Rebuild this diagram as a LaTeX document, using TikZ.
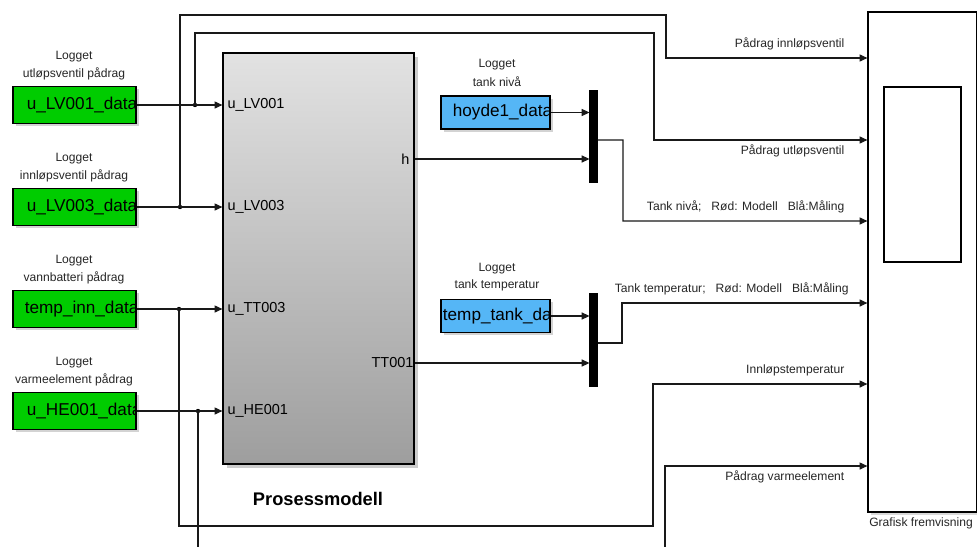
\documentclass[tikz,border=0pt]{standalone}
\usepackage{fontspec}
\setmainfont{Liberation Sans}
\usepackage{tikz}
\usetikzlibrary{arrows.meta, calc, shadows}
\definecolor{logGreen}{RGB}{0,204,0}
\definecolor{logBlue}{RGB}{85,182,246}
\definecolor{blockTop}{RGB}{226,226,226}
\definecolor{blockBot}{RGB}{158,158,158}
\def\u{0.025cm}

\begin{document}
\begin{tikzpicture}[x=\u, y=-\u, line width=0.75pt,
	sig/.style={-{Triangle[length=5.5pt, width=5pt]}},
	wire/.style={draw=black!90},
	datablock/.style={draw, line width=0.9pt, minimum width=123*\u, minimum height=37*\u, inner sep=0pt,
		drop shadow={shadow xshift=2pt, shadow yshift=-2pt, opacity=0.35}},
	datatxt/.style={anchor=west, inner sep=0pt, font=\fontsize{12.2}{14}\selectfont},
	lab/.style={inner sep=0pt, text=black!85, font=\fontsize{8.6}{10}\selectfont},
	port/.style={inner sep=0pt, font=\fontsize{10.3}{12}\selectfont},
	mux/.style={fill=black, draw=black, minimum width=7*\u, inner sep=0pt}]

	\useasboundingbox (0,0) rectangle (977,546);
	\clip (0,0) rectangle (977,546);

	% Prosessmodell
	\node[draw, line width=0.9pt, minimum width=191*\u, minimum height=411*\u, top color=blockTop, bottom color=blockBot,
		drop shadow={shadow xshift=2.5pt, shadow yshift=-2.5pt, opacity=0.4}] (pm) at (318.5,258.5) {};
	\node[font=\bfseries\fontsize{13}{15}\selectfont] (pmlab) at (318,499) {Prosessmodell};
	\node[port, anchor=west] (pLV1) at (227,105) {u\_LV001};
	\node[port, anchor=west] (pLV3) at (227,207) {u\_LV003};
	\node[port, anchor=west] (pTT3) at (227,309) {u\_TT003};
	\node[port, anchor=west] (pHE1) at (227,411) {u\_HE001};
	\node[port, anchor=east] (ph) at (410,159) {h};
	\node[port, anchor=east] (pTT1) at (414,363) {TT001};

	% logged data (green)
	\foreach \i/\yy/\pad/\txt/\lab in {1/105/14/u\_LV001\_data/utløpsventil pådrag,
		2/207/14/u\_LV003\_data/innløpsventil pådrag,
		3/309/12/temp\_inn\_data/vannbatteri pådrag,
		4/411/14/u\_HE001\_data/varmeelement pådrag}{
		\node[datablock, fill=logGreen] (g\i) at (74.5,\yy) {};
		\begin{scope}
			\clip (g\i.south west) rectangle (g\i.north east);
			\node[datatxt] (gt\i) at ($(g\i.west)+(\pad,0)$) {\txt};
		\end{scope}
		\node[lab] (gl\i) at (74,\yy-48) {Logget};
		\node[lab] (gm\i) at (74,\yy-31) {\lab};
	}

	% measured data (blue)
	\foreach \i/\yy/\pad/\txt/\lab in {1/112.5/12/hoyde1\_data/tank nivå,
		2/316/2/temp\_tank\_data/tank temperatur}{
		\node[datablock, fill=logBlue, minimum width=109*\u, minimum height=33*\u] (b\i) at (495.5,\yy) {};
		\begin{scope}
			\clip (b\i.south west) rectangle (b\i.north east);
			\node[datatxt] (bt\i) at ($(b\i.west)+(\pad,0)$) {\txt};
		\end{scope}
		\node[lab] (bl\i) at (497,\yy-47.5) {Logget};
		\node[lab] (bm\i) at (497,\yy-30.5) {\lab};
	}

	% mux
	\node[mux, minimum height=91*\u] (m1) at (593.5,136.5) {};
	\node[mux, minimum height=92*\u] (m2) at (593.5,340) {};

	% Grafisk fremvisning
	\node[draw, line width=0.9pt, fill=white, minimum width=109*\u, minimum height=500*\u,
		drop shadow={shadow xshift=2pt, shadow yshift=-2pt, opacity=0.3}] (sc) at (922.5,262) {};
	\draw[line width=0.9pt] (884,87) rectangle (961,262);
	\node[lab] (sclab) at (921,523) {Grafisk fremvisning};

	% junctions
	\coordinate (j1) at (195,105);
	\coordinate (j2) at (180,207);
	\coordinate (j3) at (179,309);
	\coordinate (j4) at (198,411);
	\foreach \j in {j1,j2,j3,j4} \fill (\j) circle (2.2);

	% inputs to the model
	\draw[wire, sig] (g1.east) -- (g1.east -| pm.west);
	\draw[wire, sig] (g2.east) -- (g2.east -| pm.west);
	\draw[wire, sig] (g3.east) -- (g3.east -| pm.west);
	\draw[wire, sig] (g4.east) -- (g4.east -| pm.west);

	% to scope
	\draw[wire, sig] (j1) -- (195,33) -- (654,33) -- (654,140) -- (sc.west |- 0,140)
		node[lab, anchor=north east, pos=1, xshift=-16pt, yshift=-3pt] (s1) {Pådrag utløpsventil};
	\draw[wire, sig] (j2) -- (180,15) -- (666,15) -- (666,58) -- (sc.west |- 0,58)
		node[lab, anchor=south east, pos=1, xshift=-16pt, yshift=5pt] (s2) {Pådrag innløpsventil};
	\draw[wire, sig] (j3) -- (179,526) -- (653,526) -- (653,384) -- (sc.west |- 0,384)
		node[lab, anchor=south east, pos=1, xshift=-16pt, yshift=5pt] (s3) {Innløpstemperatur};
	\draw[wire, sig] (j4) -- (198,570) -- (665,570) -- (665,466) -- (sc.west |- 0,466)
		node[lab, anchor=north east, pos=1, xshift=-16pt, yshift=-3pt] (s4) {Pådrag varmeelement};

	% level
	\draw[wire, sig] (b1.east) -- (b1.east -| m1.west);
	\draw[wire, sig] (pm.east |- ph) -- (m1.west |- ph);
	\draw[wire, sig] ($(m1.east)+(0,3.5)$) -- (623,140) -- (623,221) -- (sc.west |- 0,221)
		node[lab, anchor=south east, pos=1, xshift=-16pt, yshift=5pt] (s5) {Tank nivå;\ \ \ Rød: Modell\ \ \ Blå:Måling};

	% temperature
	\draw[wire, sig] (b2.east) -- (b2.east -| m2.west);
	\draw[wire, sig] (pm.east |- pTT1) -- (m2.west |- pTT1);
	\draw[wire, sig] ($(m2.east)+(0,3)$) -- (622,343) -- (622,303) -- (sc.west |- 0,303)
		node[lab, anchor=south east, pos=1, xshift=-13pt, yshift=5pt] (s6) {Tank temperatur;\ \ \ Rød: Modell\ \ \ Blå:Måling};

\end{tikzpicture}
\end{document}
